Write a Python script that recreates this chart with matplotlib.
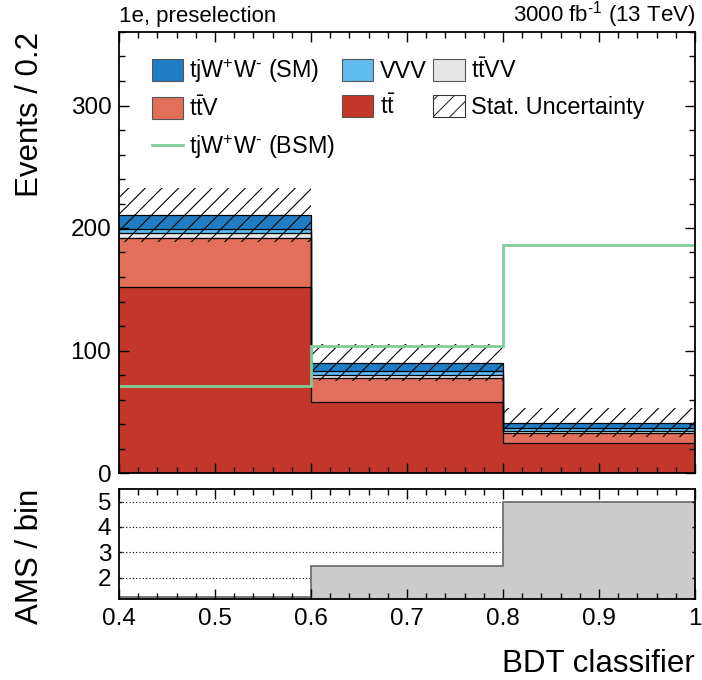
import numpy as np
import matplotlib
matplotlib.use('Agg')
import matplotlib.pyplot as plt
from matplotlib.patches import Patch
from matplotlib.lines import Line2D
from matplotlib.ticker import MultipleLocator, FixedLocator, FixedFormatter

plt.rcParams['font.family'] = ['Liberation Sans', 'DejaVu Sans']
plt.rcParams['mathtext.fontset'] = 'custom'
plt.rcParams['mathtext.rm'] = 'Liberation Sans'
plt.rcParams['mathtext.it'] = 'Liberation Sans:italic'
plt.rcParams['mathtext.bf'] = 'Liberation Sans:bold'
plt.rcParams['hatch.linewidth'] = 0.8

# ---------------- data ----------------
bin_edges = [0.4, 0.6, 0.8, 1.0]
tt = [151.6, 57.9, 24.2]
ttV = [40.4, 19.6, 8.6]
ttVV = [3.7, 2.8, 1.7]
VVV = [3.6, 2.6, 1.9]
tjWW_SM = [11.4, 7.3, 4.6]
stat_unc = [22.3, 14.8, 11.7]
tjWW_BSM = [70.9, 103.5, 186.4]
ams = [1.24, 2.47, 5.0]
x_tick_vals = [0.4, 0.5, 0.6, 0.7, 0.8, 0.9, 1.0]
x_tick_labels = ['0.4', '0.5', '0.6', '0.7', '0.8', '0.9', '1']
ams_ticks = [2, 3, 4, 5]

labels = {
    'SM': r'tjW$^{+}$W$^{\text{-}}$ (SM)',
    'VVV': 'VVV',
    'ttVV': r't$\bar{\mathrm{t}}$VV',
    'ttV': r't$\bar{\mathrm{t}}$V',
    'tt': r't$\bar{\mathrm{t}}$',
    'unc': 'Stat. Uncertainty',
    'BSM': r'tjW$^{+}$W$^{\text{-}}$ (BSM)',
}
colors = {
    'SM': '#1f7dc4',
    'VVV': '#60bcee',
    'ttVV': '#e5e5e5',
    'ttV': '#e26f5a',
    'tt': '#c23729',
    'BSM': '#80cc99',
}

edges = np.array(bin_edges)
W, H = 702, 680
fig = plt.figure(figsize=(W / 100, H / 100), dpi=100)
ax = fig.add_axes([119 / W, 1 - 473 / H, 576 / W, 441 / H])
rax = fig.add_axes([119 / W, 1 - 599 / H, 576 / W, 110 / H])

# ---------------- stacked histogram ----------------
stack = [('tt', tt), ('ttV', ttV), ('ttVV', ttVV), ('VVV', VVV), ('SM', tjWW_SM)]
base = np.zeros(len(tt))
tops = []
for key, vals in stack:
    top = base + np.array(vals)
    ax.stairs(top, edges, baseline=base, fill=True, facecolor=colors[key],
              edgecolor='none', linewidth=0, zorder=1)
    tops.append(top)
    base = top
for top in tops:
    ax.stairs(top, edges, baseline=None, color='black', linewidth=0.9, zorder=1.2)

total = base
unc = np.array(stat_unc)
ax.stairs(total + unc, edges, baseline=total - unc, fill=True, facecolor='none',
          edgecolor='black', hatch='//', linewidth=0, zorder=1.3)

ax.stairs(tjWW_BSM, edges, baseline=None, color=colors['BSM'], linewidth=2, zorder=1.4)

ax.set_xlim(0.4, 1.0)
ax.set_ylim(0, 360)
ax.yaxis.set_major_locator(MultipleLocator(100))
ax.yaxis.set_minor_locator(MultipleLocator(20))
ax.xaxis.set_major_locator(MultipleLocator(0.1))
ax.xaxis.set_minor_locator(MultipleLocator(0.02))
ax.tick_params(which='both', direction='in', top=True, right=True, width=1)
ax.tick_params(which='major', length=7)
ax.tick_params(which='minor', length=4)
ax.tick_params(axis='x', labelbottom=False)
ax.tick_params(axis='y', labelsize=17.5, pad=5.5)
for s in ax.spines.values():
    s.set_linewidth(1.3)

ax.set_ylabel('Events / 0.2', fontsize=22.5, loc='top')
ax.yaxis.set_label_coords(-0.128, 1.0)

ax.text(0.0, 1.023, '1e, preselection', transform=ax.transAxes, ha='left',
        va='baseline', fontsize=16)
ax.text(1.0, 1.023, r'3000 fb$^{\text{-}1}$ (13 TeV)', transform=ax.transAxes,
        ha='right', va='baseline', fontsize=16)

# legend
def box(key):
    return Patch(facecolor=colors[key], edgecolor='#555555', linewidth=0.8)

handles = [box('SM'), box('ttV'), Line2D([], [], color=colors['BSM'], lw=2),
           box('VVV'), box('tt'),
           box('ttVV'), Patch(facecolor='white', edgecolor='#333333', hatch='//', linewidth=0.8)]
hlabels = [labels['SM'], labels['ttV'], labels['BSM'], labels['VVV'], labels['tt'],
           labels['ttVV'], labels['unc']]
ax.legend(handles, hlabels, ncol=3, loc='upper left', bbox_to_anchor=(0.0566, 0.944),
          frameon=False, fontsize=16.8, borderpad=0, borderaxespad=0,
          handlelength=1.33, handleheight=1.07, handletextpad=0.28,
          columnspacing=0.3, labelspacing=0.52)

# ---------------- AMS panel ----------------
rax.set_xlim(0.4, 1.0)
rax.set_ylim(1.15, 5.5)
rax.yaxis.set_major_locator(FixedLocator(ams_ticks))
for yv in ams_ticks:
    rax.axhline(yv, color='black', linestyle=(0, (1, 2)), linewidth=0.8, zorder=0.5)
rax.stairs(ams, edges, baseline=0, fill=True, facecolor='#cccccc',
           edgecolor='#666666', linewidth=1.2, zorder=1)
rax.xaxis.set_major_locator(FixedLocator(x_tick_vals))
rax.xaxis.set_major_formatter(FixedFormatter(x_tick_labels))
rax.xaxis.set_minor_locator(MultipleLocator(0.02))
rax.tick_params(which='both', direction='in', top=True, right=True, width=1)
rax.tick_params(axis='x', which='major', length=7)
rax.tick_params(axis='x', which='minor', length=4)
rax.tick_params(axis='y', which='major', length=2.5)
rax.tick_params(axis='both', labelsize=17.5)
rax.tick_params(axis='x', pad=6.5)
rax.tick_params(axis='y', pad=5.5)
for s in rax.spines.values():
    s.set_linewidth(1.3)

rax.set_ylabel('AMS / bin', fontsize=22.5, loc='top')
rax.yaxis.set_label_coords(-0.128, 1.0)
rax.set_xlabel('BDT classifier', fontsize=22.5, loc='right')
rax.xaxis.set_label_coords(1.0, -0.4545)

fig.savefig('out.png', dpi=100)
